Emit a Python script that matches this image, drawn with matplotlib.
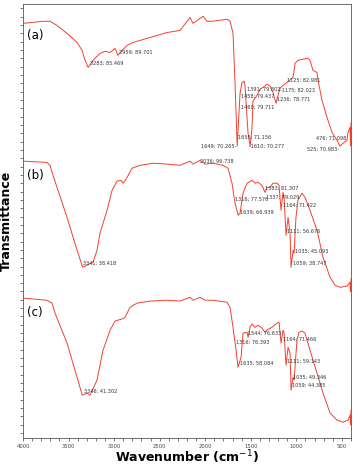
import numpy as np
import matplotlib
matplotlib.use('Agg')
import matplotlib.pyplot as plt
from matplotlib.ticker import MultipleLocator

# stacked FTIR traces: wavenumber (cm-1) and offset transmittance (a.u.)
wn_a = [4000, 3780, 3704, 3627, 3517, 3407, 3352, 3319, 3285, 3232, 3155, 3100,
        3045, 2990, 2960, 2935, 2858, 2793, 2606, 2419, 2277, 2167, 2134, 2024,
        1980, 1915, 1761, 1728, 1695, 1673, 1649, 1618, 1596, 1574, 1563, 1530,
        1508, 1487, 1476, 1454, 1432, 1399, 1366, 1322, 1289, 1256, 1223, 1201,
        1179, 1146, 1102, 1036, 1014, 982, 927, 872, 850, 817, 773, 762, 718,
        663, 608, 553, 521, 488, 444, 433, 411, 405, 400]
t_a = [98.4, 98.9, 98.9, 97.9, 96.0, 93.8, 91.9, 89.5, 87.8, 89.5, 91.2, 91.7,
       91.4, 92.4, 90.7, 91.4, 93.1, 93.8, 95.0, 96.2, 96.7, 99.8, 98.4, 100.1,
       98.9, 98.9, 99.4, 98.9, 96.0, 84.0, 68.9, 81.6, 84.2, 84.5, 83.3, 72.0,
       68.9, 73.2, 79.7, 80.4, 81.1, 82.6, 83.0, 83.8, 83.3, 81.8, 79.2, 81.1,
       82.8, 83.5, 84.2, 85.4, 88.8, 89.5, 89.8, 90.0, 89.5, 87.1, 86.6, 84.7,
       79.9, 75.8, 72.2, 70.3, 68.9, 69.6, 70.3, 72.2, 73.4, 69.0, 74.5]

wn_b = [4000, 3737, 3704, 3671, 3517, 3407, 3345, 3298, 3232, 3188, 3155, 3078,
        3023, 2968, 2924, 2902, 2858, 2804, 2716, 2573, 2419, 2277, 2167, 2134,
        2057, 2002, 1915, 1805, 1750, 1706, 1673, 1639, 1618, 1585, 1541, 1487,
        1454, 1421, 1377, 1344, 1322, 1289, 1256, 1212, 1190, 1168, 1146, 1135,
        1113, 1091, 1069, 1058, 1036, 1025, 1004, 982, 938, 905, 850, 773, 707,
        630, 575, 521, 444, 411, 405, 400]
t_b = [65.3, 65.0, 64.3, 61.9, 51.8, 43.9, 39.8, 40.3, 41.0, 43.9, 48.0, 53.5,
       58.3, 60.5, 60.7, 60.0, 61.4, 63.6, 64.3, 64.8, 64.6, 64.3, 65.3, 64.6,
       65.5, 64.6, 64.8, 64.3, 63.6, 60.0, 55.2, 52.3, 52.8, 57.6, 60.0, 60.7,
       60.0, 60.2, 59.5, 57.8, 59.0, 59.0, 60.0, 60.0, 59.5, 53.5, 57.8, 56.6,
       47.5, 51.8, 48.0, 39.8, 43.9, 43.2, 51.8, 55.9, 57.6, 56.6, 53.5, 48.7,
       42.2, 37.4, 35.5, 35.0, 35.3, 36.2, 34.0, 37.0]

wn_c = [4000, 3737, 3682, 3649, 3517, 3407, 3350, 3298, 3265, 3188, 3122, 3045,
        2990, 2913, 2880, 2826, 2749, 2606, 2419, 2277, 2167, 2134, 2057, 2002,
        1915, 1761, 1728, 1695, 1662, 1640, 1607, 1585, 1541, 1530, 1508, 1487,
        1454, 1421, 1377, 1344, 1311, 1267, 1212, 1190, 1168, 1146, 1135, 1113,
        1091, 1069, 1058, 1036, 1025, 993, 971, 938, 905, 850, 773, 707, 630,
        553, 488, 433, 410, 405, 400]
t_c = [32.4, 31.9, 31.2, 28.8, 21.6, 13.4, 9.1, 9.6, 9.1, 12.7, 19.9, 24.7,
       26.9, 27.4, 27.8, 30.2, 31.2, 31.7, 31.9, 31.7, 32.6, 31.9, 32.6, 31.9,
       31.9, 31.4, 30.2, 25.4, 19.9, 15.8, 18.2, 24.0, 24.2, 23.0, 25.4, 26.2,
       25.4, 25.9, 25.2, 24.2, 24.9, 25.4, 26.4, 26.6, 21.6, 24.7, 24.0, 16.3,
       20.6, 19.2, 10.3, 13.4, 12.7, 22.3, 24.2, 24.5, 24.0, 19.9, 14.4, 9.6, 4.8,
       3.1, 2.6, 3.1, 4.3, 2.0, 5.5]

# peak labels: text, wavenumber, y, alignment
peaks_a = [('3283; 85.469', 3265, 88.8, 'left'), ('2959; 89.701', 2946, 91.4, 'left'),
           ('1391; 79.802', 1541, 82.6, 'left'), ('1458; 79.437', 1607, 80.9, 'left'),
           ('1460; 79.711', 1607, 78.2, 'left'), ('1236; 78.771', 1212, 80.2, 'left'),
           ('-1175; 82.023', 1179, 82.3, 'left'), ('1125; 82.981', 1102, 84.7, 'left'),
           ('1655; 71.156', 1640, 71.0, 'left'), ('1649; 70.265-', 1662, 68.9, 'right'),
           ('-1610; 70.277', 1519, 68.9, 'left'), ('476; 71.098', 784, 70.8, 'left'),
           ('525; 70.983-', 532, 68.2, 'right')]
peaks_b = [('2036; 96.738', 2057, 65.3, 'left'), ('3341; 38.418', 3341, 40.8, 'left'),
           ('1316; 77.576', 1673, 56.2, 'left'), ('1639; 66.939', 1618, 53.0, 'left'),
           ('1383; 81.307', 1344, 58.8, 'left'), ('1337; 79.029', 1333, 56.6, 'left'),
           ('1164; 71.422', 1146, 54.7, 'left'), ('1111; 56.676', 1102, 48.5, 'left'),
           ('1035; 45.093', 1014, 43.7, 'left'), ('1059; 38.747', 1036, 40.8, 'left')]
peaks_c = [('3346; 41.302', 3330, 10.1, 'left'), ('1544; 76.633', 1530, 24.0, 'left'),
           ('1316; 76.393', 1662, 21.8, 'left'), ('1635; 58.084', 1618, 16.8, 'left'),
           ('1164; 71.466', 1146, 22.6, 'left'), ('1111; 59.143', 1102, 17.3, 'left'),
           ('1035; 49.346', 1036, 13.4, 'left'), ('1059; 44.385', 1047, 11.5, 'left')]

panel_names = ['(a)', '(b)', '(c)']
panel_y = [95.5, 61.9, 29.0]

LINE = '#f2402f'

fig = plt.figure(figsize=(3.6, 4.66), dpi=100)
ax = fig.add_axes([0.064, 0.060, 0.911, 0.931])

for wn, t in [(wn_a, t_a), (wn_b, t_b), (wn_c, t_c)]:
    ax.plot(wn, t, color=LINE, lw=0.7)

for peaks in [peaks_a, peaks_b, peaks_c]:
    for txt, x, y, ha in peaks:
        ax.text(x, y, txt, fontsize=3.6, color='#333333', ha=ha, va='center')

for name, y in zip(panel_names, panel_y):
    ax.text(3956, y, name, fontsize=8.5, ha='left', va='center')

ax.set_xlim(4000, 400)
ax.set_ylim(-1.2, 103.0)
ax.xaxis.set_major_locator(MultipleLocator(500))
ax.xaxis.set_minor_locator(MultipleLocator(100))
ax.yaxis.set_major_locator(MultipleLocator(2))
ax.set_yticklabels([])
ax.tick_params(axis='x', which='both', direction='out', length=2.5, width=0.5,
               labelsize=3.8, pad=1.5, colors='#444444')
ax.tick_params(axis='y', direction='out', length=2.5, width=0.5, colors='#444444')
for s in ax.spines.values():
    s.set_linewidth(0.6)
    s.set_color('#555555')

ax.set_xlabel('Wavenumber (cm$^{-1}$)', fontsize=9, fontweight='bold', labelpad=0)
ax.set_ylabel('Transmittance', fontsize=9, fontweight='bold', labelpad=1)

fig.savefig('out.png', dpi=100)
